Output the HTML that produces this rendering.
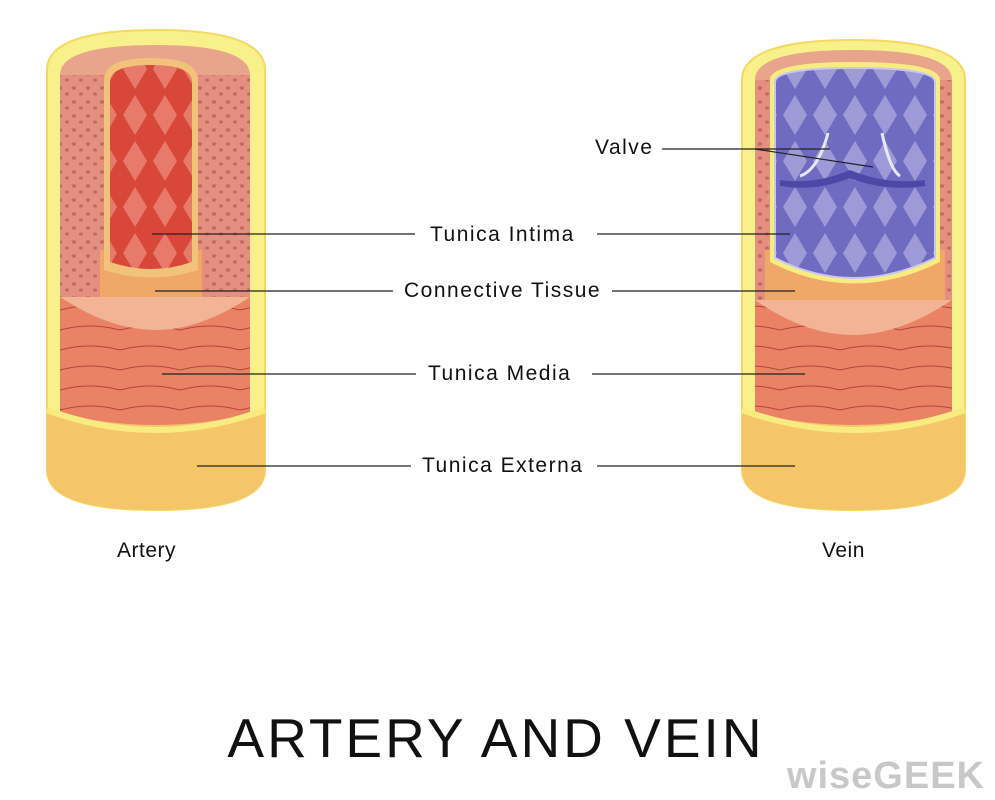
<!DOCTYPE html>
<html><head><style>
html,body{margin:0;padding:0;background:#fff;width:995px;height:800px;overflow:hidden}
svg{display:block}
text{font-family:"Liberation Sans",sans-serif;fill:#111}
</style></head><body>
<svg width="995" height="800" viewBox="0 0 995 800">
<defs>
<pattern id="dots" width="14" height="14" patternUnits="userSpaceOnUse">
<rect width="14" height="14" fill="#e58f80"/>
<ellipse cx="4" cy="4" rx="2.2" ry="1.7" fill="#c46a62"/><ellipse cx="11" cy="10" rx="2" ry="1.6" fill="#c46a62"/></pattern>
<pattern id="dia" width="30" height="46" patternUnits="userSpaceOnUse">
<rect width="30" height="46" fill="#d9473a"/>
<path d="M15 3 L27 23 L15 43 L3 23Z" fill="#e77a6a"/></pattern>
<pattern id="diaV" width="30" height="46" patternUnits="userSpaceOnUse">
<rect width="30" height="46" fill="#6f6bc0"/>
<path d="M15 3 L27 23 L15 43 L3 23Z" fill="#9e9ad8"/></pattern>
<pattern id="fib" width="60" height="20" patternUnits="userSpaceOnUse">
<rect width="60" height="20" fill="#ea8266"/>
<path d="M0 10 Q30 2 60 10" stroke="#b5443a" fill="none" stroke-width="1"/></pattern>
</defs>

<!-- ARTERY -->
<path d="M47 70 Q47 30 156 30 Q265 30 265 70 L265 470 Q265 510 156 510 Q47 510 47 470Z" fill="#f8f08a" stroke="#f4d860" stroke-width="2"/>
<path d="M60 75 Q60 45 156 45 Q250 45 250 75Z" fill="#e9a48c"/>
<rect x="60" y="75" width="190" height="225" fill="url(#dots)"/>
<rect x="100" y="250" width="102" height="50" fill="#f0a868"/>
<path d="M104 80 Q104 58 151 58 Q198 58 198 80 L198 270 Q151 285 104 270Z" fill="#f3c27a"/>
<path d="M110 82 Q110 65 151 65 Q192 65 192 82 L192 262 Q151 276 110 262Z" fill="url(#dia)"/>
<path d="M60 297 L250 297 L250 440 Q156 460 60 440Z" fill="url(#fib)"/>
<path d="M60 297 L250 297 Q200 330 156 330 Q110 330 60 297Z" fill="#f2b494"/>
<path d="M47 410 Q156 440 265 410 L265 470 Q265 510 156 510 Q47 510 47 470Z" fill="#f5c56a"/>
<path d="M47 410 Q156 450 265 410" stroke="#f8ec80" stroke-width="6" fill="none"/>

<!-- VEIN -->
<path d="M742 80 Q742 40 853 40 Q965 40 965 80 L965 470 Q965 510 853 510 Q742 510 742 470Z" fill="#f8f08a" stroke="#f4d860" stroke-width="2"/>
<path d="M755 80 Q755 50 853 50 Q952 50 952 80Z" fill="#e9a48c"/>
<rect x="755" y="80" width="197" height="220" fill="url(#dots)"/>
<rect x="765" y="250" width="180" height="55" fill="#f0a868"/>
<path d="M770 80 Q770 62 853 62 Q940 62 940 80 L940 262 Q853 305 770 262Z" fill="#f8ec80"/>
<path d="M775 82 Q775 68 853 68 Q935 68 935 82 L935 258 Q853 298 775 258Z" fill="url(#diaV)" stroke="#c8c6f0" stroke-width="2"/>
<path d="M780 180 Q815 185 850 170 Q885 185 925 180 L925 186 Q885 192 850 178 Q815 192 780 186Z" fill="#4d48a8"/>
<path d="M828 133 Q818 170 800 176" stroke="#e8e6ff" stroke-width="3" fill="none"/>
<path d="M882 133 Q890 170 900 176" stroke="#e8e6ff" stroke-width="3" fill="none"/>
<path d="M755 300 L952 300 L952 445 Q853 462 755 445Z" fill="url(#fib)"/>
<path d="M755 300 L952 300 Q900 335 853 335 Q805 335 755 300Z" fill="#f2b494"/>
<path d="M742 410 Q853 440 965 410 L965 470 Q965 510 853 510 Q742 510 742 470Z" fill="#f5c56a"/>
<path d="M742 410 Q853 450 965 410" stroke="#f8ec80" stroke-width="6" fill="none"/>

<!-- leader lines -->
<g stroke="#222" stroke-width="1.2">
<line x1="152" y1="234" x2="415" y2="234"/><line x1="597" y1="234" x2="790" y2="234"/>
<line x1="155" y1="291" x2="393" y2="291"/><line x1="612" y1="291" x2="795" y2="291"/>
<line x1="162" y1="374" x2="416" y2="374"/><line x1="592" y1="374" x2="805" y2="374"/>
<line x1="197" y1="466" x2="411" y2="466"/><line x1="597" y1="466" x2="795" y2="466"/>
<line x1="662" y1="149" x2="755" y2="149"/>
<line x1="755" y1="149" x2="830" y2="149"/><line x1="755" y1="149" x2="873" y2="167"/>
</g>
<g font-size="21" style="letter-spacing:1.5px">
<text x="595" y="154">Valve</text>
<text x="430" y="241">Tunica Intima</text>
<text x="404" y="297">Connective Tissue</text>
<text x="428" y="380">Tunica Media</text>
<text x="422" y="472">Tunica Externa</text>
<text x="117" y="557" style="letter-spacing:0.5px">Artery</text>
<text x="822" y="557" style="letter-spacing:0.5px">Vein</text>
</g>
<text x="496" y="757" font-size="55" text-anchor="middle" style="letter-spacing:3px">ARTERY AND VEIN</text>
<text x="985" y="788" font-size="38" font-weight="bold" text-anchor="end" style="fill:#c8c8c8;letter-spacing:1px">wiseGEEK</text>
</svg>
</body></html>
